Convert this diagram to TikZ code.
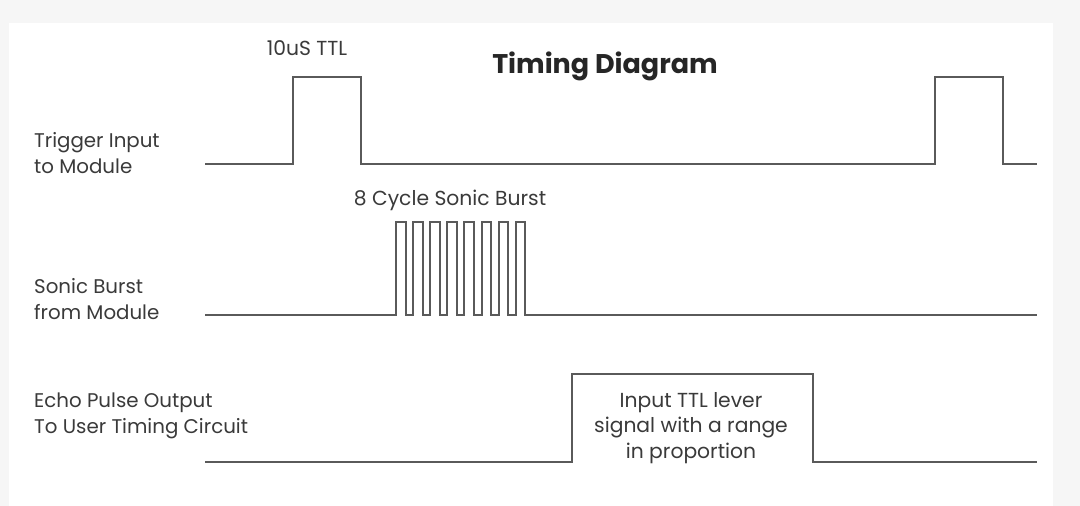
\documentclass[tikz,border=0pt]{standalone}
\usepackage{fontspec}
\setmainfont{Poppins}
\definecolor{bgout}{HTML}{F6F6F6}
\definecolor{wave}{HTML}{5A5A5A}
\definecolor{txt}{HTML}{3A3A3A}
\tikzset{
  sig/.style={draw=wave, line width=2pt, line join=miter},
  lbl/.style={text=txt, font=\fontsize{19.8}{26}\selectfont, align=left, anchor=west, inner sep=0pt},
  note/.style={text=txt, font=\fontsize{20.3}{25.5}\selectfont, inner sep=0pt},
}
\begin{document}
\begin{tikzpicture}[x=1pt, y=-1pt]
\useasboundingbox (0,0) rectangle (1080,506);
\fill[bgout] (0,0) rectangle (1080,506);
\fill[white] (9,23) rectangle (1053,506);

% title
\node[text=black!85, font=\fontsize{27}{30}\selectfont\bfseries, inner sep=0pt] (title) at (605,66) {Timing Diagram};

% labels
\node[lbl] (trig) at (34,153) {Trigger Input\\to Module};
\node[lbl] (sonic) at (34,299) {Sonic Burst\\from Module};
\node[lbl] (echo) at (34,416) {Echo Pulse Output\\To User Timing Circuit};

\node[note] (ttl) at (307,48) {10uS TTL};
\node[note] (burst) at (450,200) {8 Cycle Sonic Burst};
\node[note, align=center] (pulse) at (691,428) {Input TTL lever\\signal with a range\\in proportion};

% trigger waveform
\draw[sig] (205,164) -- (293,164) -- (293,77) -- (361,77) -- (361,164) -- (935,164) -- (935,77) -- (1003,77) -- (1003,164) -- (1037,164);

% sonic burst waveform
\draw[sig] (205,315) -- (396,315)
  \foreach \i in {0,...,7} { -- ({396+17.1*\i},315) -- ({396+17.1*\i},222) -- ({405.5+17.1*\i},222) -- ({405.5+17.1*\i},315) }
  -- (1037,315);

% echo waveform
\draw[sig] (205,462) -- (572,462) -- (572,374) -- (813,374) -- (813,462) -- (1037,462);
\end{tikzpicture}
\end{document}
